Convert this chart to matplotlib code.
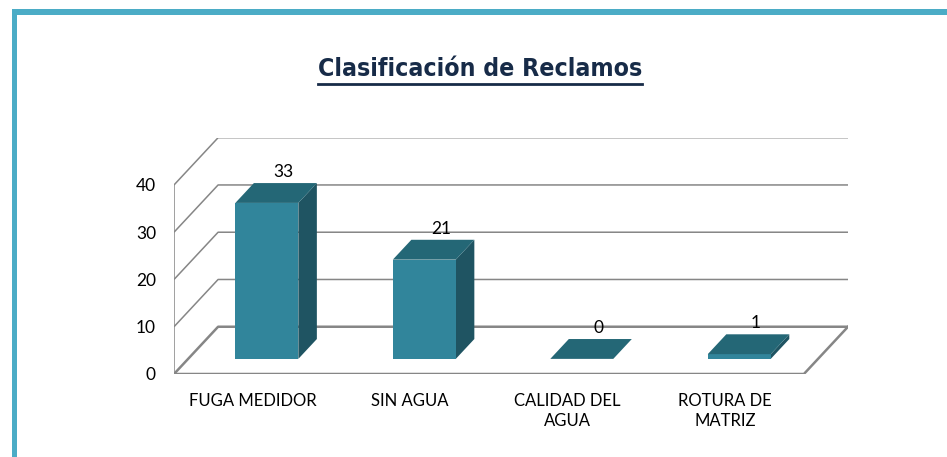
import matplotlib
matplotlib.use("Agg")
import matplotlib.pyplot as plt
from matplotlib.patches import Polygon, Rectangle
from matplotlib.lines import Line2D

categories = ["FUGA MEDIDOR", "SIN AGUA", "CALIDAD DEL\nAGUA", "ROTURA DE\nMATRIZ"]
values = [33, 21, 0, 1]
yticks = [0, 10, 20, 30, 40]
title = "Clasificación de Reclamos"

# style
FRONT = "#31859B"
TOP = "#246776"
SIDE = "#1F5462"
GRID = "#868686"
BORDER = "#4BACC6"
NAVY = "#172B48"

# 3D geometry (in data units)
DEPTH_X, DEPTH_Y = 0.28, 10.0   # full floor depth
F0 = 0.32                        # bar front position along depth
FB = 0.42                        # bar depth fraction
HALF_W = 0.2

fig = plt.figure(figsize=(9.47, 4.57), dpi=100)
fig.patch.set_facecolor("white")

# frame border
fig.patches.append(Rectangle((12/947, 0), 5/947, 1 - 9/457, transform=fig.transFigure,
                             facecolor=BORDER, edgecolor="none"))
fig.patches.append(Rectangle((12/947, 1 - 15/457), 1, 6/457, transform=fig.transFigure,
                             facecolor=BORDER, edgecolor="none"))

ax = fig.add_axes([174/947, 83/457, 674/947, 236.3/457])
ax.set_xlim(-0.5, 3.5 + DEPTH_X)
ax.set_ylim(0, yticks[-1] + DEPTH_Y)
for s in ax.spines.values():
    s.set_visible(False)
ax.set_facecolor("none")

n = len(categories)
x0, x1 = -0.5, n - 0.5

# gridlines: left wall diagonals + back wall horizontals
for v in yticks:
    lw = 1.8 if v == 0 else 1.1
    ax.plot([x0, x0 + DEPTH_X, x1 + DEPTH_X], [v, v + DEPTH_Y, v + DEPTH_Y],
            color=GRID, lw=lw, zorder=1, solid_capstyle="butt")
# left wall front vertical edge
ax.plot([x0, x0], [0, yticks[-1]], color=GRID, lw=1.1, zorder=1)
# floor front edge and right edge
ax.plot([x0, x1, x1 + DEPTH_X], [0, 0, DEPTH_Y], color=GRID, lw=1.8, zorder=1)

# bars
dx0, dy0 = F0 * DEPTH_X, F0 * DEPTH_Y
ddx, ddy = FB * DEPTH_X, FB * DEPTH_Y
for i, v in enumerate(values):
    xl = i + dx0 - HALF_W
    xr = i + dx0 + HALF_W
    yb = dy0
    yt = dy0 + v
    side = Polygon([(xr, yb), (xr, yt), (xr + ddx, yt + ddy), (xr + ddx, yb + ddy)],
                   closed=True, facecolor=SIDE, edgecolor="none", zorder=3)
    front = Polygon([(xl, yb), (xr, yb), (xr, yt), (xl, yt)],
                    closed=True, facecolor=FRONT, edgecolor="none", zorder=4)
    top = Polygon([(xl, yt), (xr, yt), (xr + ddx, yt + ddy), (xl + ddx, yt + ddy)],
                  closed=True, facecolor=TOP, edgecolor="none", zorder=5)
    for p in (side, front, top):
        ax.add_patch(p)
    ax.text(i + dx0 + ddx * 0.9, yt + ddy + 0.6, str(v), ha="center", va="bottom",
            fontsize=12.5, family="Lato", color="black", zorder=6)

ax.set_yticks(yticks)
ax.set_yticklabels([str(t) for t in yticks], fontsize=12.5, family="Lato")
ax.set_xticks(range(n))
ax.set_xticklabels(categories, fontsize=12, family="Lato", linespacing=1.3)
ax.tick_params(axis="both", length=0)
ax.tick_params(axis="y", pad=13)
ax.tick_params(axis="x", pad=14)

# title
t = fig.text(480/947, 1 - 69/457, title, ha="center", va="center",
             fontsize=17.8, fontweight="bold", family="DejaVu Sans", fontstretch="condensed",
             color=NAVY)
fig.canvas.draw()
bb = t.get_window_extent().transformed(fig.transFigure.inverted())
fig.add_artist(Line2D([bb.x0, bb.x1], [bb.y0 - 3/457, bb.y0 - 3/457], transform=fig.transFigure,
                      color=NAVY, lw=2))

fig.savefig("out.png", dpi=100, facecolor="white")
